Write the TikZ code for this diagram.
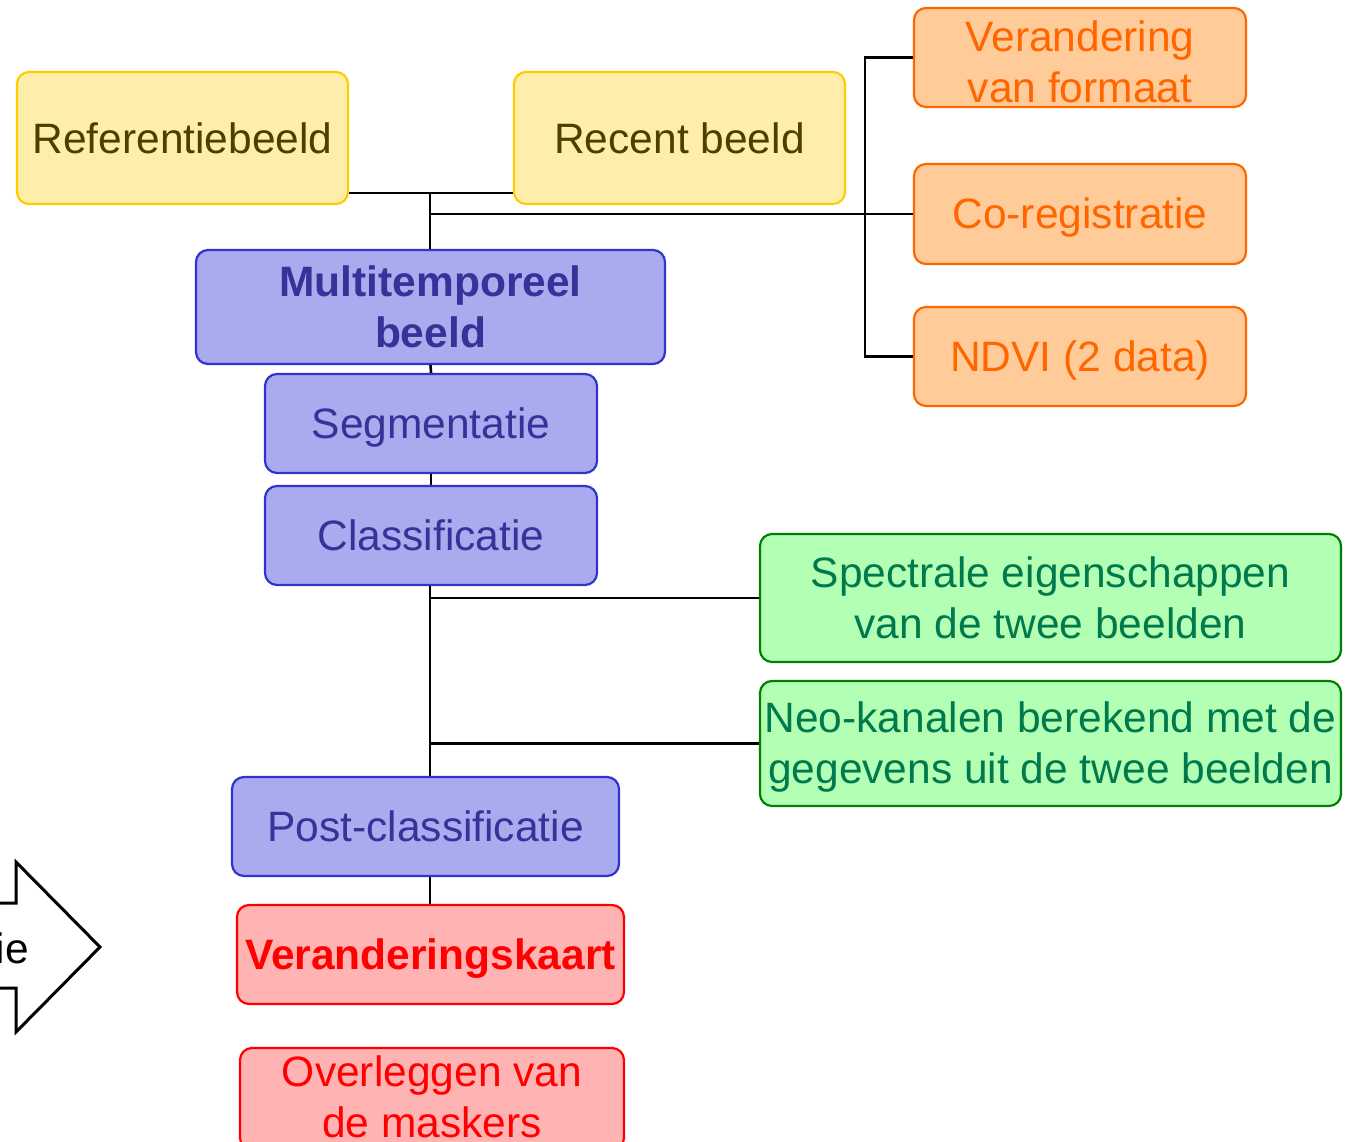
\documentclass[tikz,border=0pt]{standalone}
\usepackage{fontspec}
\setmainfont{Liberation Sans}
\definecolor{yfill}{HTML}{FFEEAA}
\definecolor{ydraw}{HTML}{FFCC00}
\definecolor{ytext}{HTML}{4D3F00}
\definecolor{ofill}{HTML}{FFCC99}
\definecolor{odraw}{HTML}{FF6600}
\definecolor{bfill}{HTML}{AAAAEE}
\definecolor{bdraw}{HTML}{3333CC}
\definecolor{btext}{HTML}{333399}
\definecolor{gfill}{HTML}{B3FFB3}
\definecolor{gdraw}{HTML}{008000}
\definecolor{gtext}{HTML}{007A4D}
\definecolor{rfill}{HTML}{FFB3B3}
\definecolor{rdraw}{HTML}{FF0000}
\newcommand\lowr[1]{\raisebox{-4pt}[\height][\depth]{#1}}
\begin{document}
\begin{tikzpicture}[x=1pt,y=-1pt,
  box/.style={rectangle,rounded corners=12pt,line width=2.2pt,inner sep=0pt,align=center,
    font=\fontsize{42.5}{51}\selectfont},
  ybox/.style={box,fill=yfill,draw=ydraw,text=ytext},
  obox/.style={box,fill=ofill,draw=odraw,text=odraw},
  bbox/.style={box,fill=bfill,draw=bdraw,text=btext},
  gbox/.style={box,fill=gfill,draw=gdraw,text=gtext},
  rbox/.style={box,fill=rfill,draw=rdraw,text=rdraw},
  conn/.style={line width=2.6pt,black}]
\useasboundingbox (0,0) rectangle (1354,1142);
\clip (0,0) rectangle (1354,1142);

\node[ybox,minimum width=331pt,minimum height=132pt] (ref) at (182.5,138) {Referentiebeeld};
\node[ybox,minimum width=331pt,minimum height=132pt] (rec) at (679.5,138) {Recent beeld};
\node[obox,minimum width=332pt,minimum height=99pt] (vf) at (1080,57.5) {\lowr{Verandering}\\\lowr{van formaat}};
\node[obox,minimum width=332pt,minimum height=100pt] (co) at (1080,214) {\lowr{Co-registratie}};
\node[obox,minimum width=332pt,minimum height=99pt] (ndvi) at (1080,356.5) {\lowr{NDVI (2 data)}};
\node[bbox,minimum width=469pt,minimum height=114pt,font=\fontsize{42.5}{51}\selectfont\bfseries] (mt) at (430.5,307) {Multitemporeel\\beeld};
\node[bbox,minimum width=332pt,minimum height=99pt] (seg) at (431,423.5) {\lowr{Segmentatie}};
\node[bbox,minimum width=332pt,minimum height=99pt] (cls) at (431,535.5) {Classificatie};
\node[gbox,minimum width=581pt,minimum height=128pt] (spec) at (1050.5,598) {Spectrale eigenschappen\\van de twee beelden};
\node[gbox,minimum width=581pt,minimum height=125pt] (neo) at (1050.5,743.5) {\lowr{Neo-kanalen berekend met de}\\\lowr{gegevens uit de twee beelden}};
\node[bbox,minimum width=387pt,minimum height=99pt] (post) at (425.5,826.5) {Post-classificatie};
\node[rbox,minimum width=387pt,minimum height=99pt,font=\fontsize{42.5}{51}\selectfont\bfseries] (vk) at (430.5,954.5) {\lowr{Veranderingskaart}};
\node[rbox,minimum width=384pt,minimum height=102pt] (ovl) at (432,1099) {\raisebox{2pt}[\height][\depth]{Overleggen van}\\\raisebox{2pt}[\height][\depth]{de maskers}};

% block arrow at left
\draw[line width=3pt,fill=white,line join=miter] (-60,903) -- (16,903) -- (16,862) -- (100,947) -- (16,1032) -- (16,988) -- (-60,988) -- cycle;
\node[anchor=east,inner sep=0pt,font=\fontsize{42.5}{51}\selectfont] (ie) at (29,948) {ie};

% connectors
\coordinate (j1) at (430,193);
\coordinate (j2) at (430,214);
\draw[conn] (ref.east |- j1) -- (rec.west |- j1);
\draw[conn] (j1) -- (j1 |- mt.north);
\draw[conn] (co.west -| j2) -- (co.west);
\draw[conn] (vf.west) -- ++(-48,0) |- (ndvi.west);
\draw[conn] (mt.south) -- (seg.north);
\draw[conn] (seg.south) -- (cls.north);
\draw[conn] (cls.south -| j1) -- (j1 |- post.north);
\draw[conn] (spec.west) -- (spec.west -| j1);
\draw[conn] (neo.west) -- (neo.west -| j1);
\draw[conn] (j1 |- post.south) -- (j1 |- vk.north);
\end{tikzpicture}
\end{document}
